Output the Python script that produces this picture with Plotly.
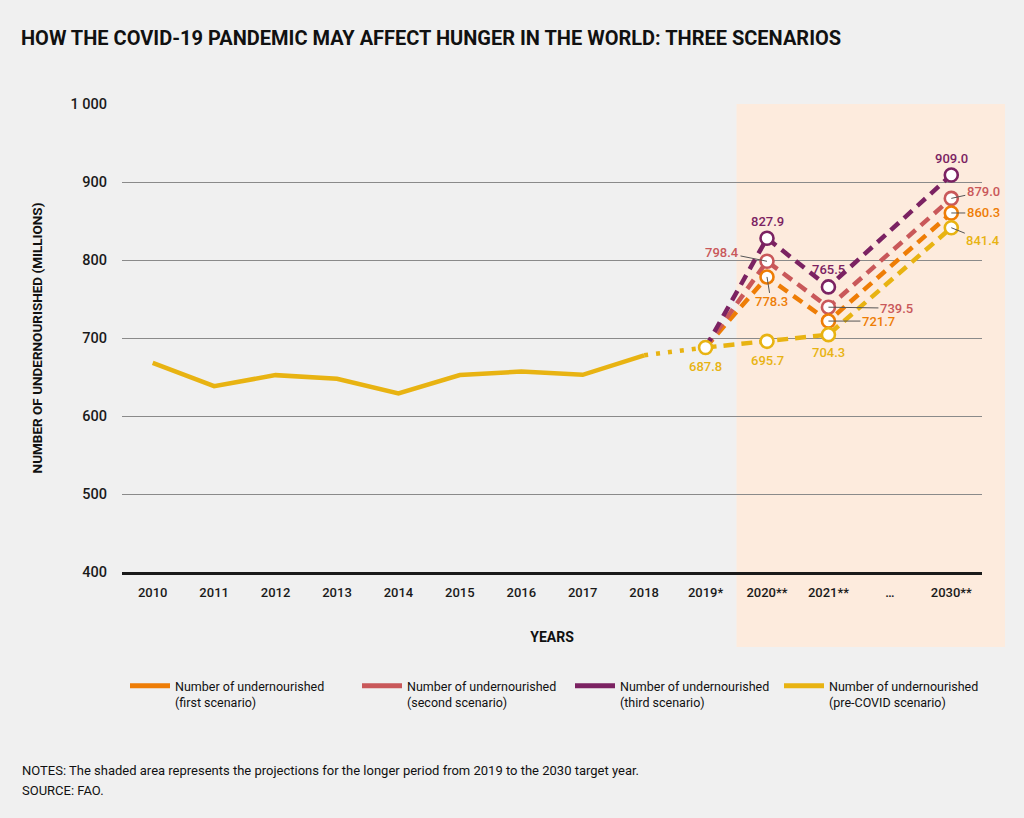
import plotly.graph_objects as go

# ---------------- data ----------------
categories = ["2010", "2011", "2012", "2013", "2014", "2015", "2016", "2017",
              "2018", "2019*", "2020**", "2021**", "…", "2030**"]
hist_years = ["2010", "2011", "2012", "2013", "2014", "2015", "2016", "2017", "2018"]
hist_values = [668.2, 638.3, 652.4, 647.8, 629.0, 652.6, 657.0, 652.8, 677.8]
base_year = "2019*"
base_value = 687.8
proj_years = ["2020**", "2021**", "2030**"]
first_scenario = [778.3, 721.7, 860.3]
second_scenario = [798.4, 739.5, 879.0]
third_scenario = [827.9, 765.5, 909.0]
precovid_scenario = [695.7, 704.3, 841.4]
y_tickvals = [400, 500, 600, 700, 800, 900, 1000]
y_ticktext = ["400", "500", "600", "700", "800", "900", "1 000"]

legend_names = {
    "first": "Number of undernourished<br>(first scenario)",
    "second": "Number of undernourished<br>(second scenario)",
    "third": "Number of undernourished<br>(third scenario)",
    "pre": "Number of undernourished<br>(pre-COVID scenario)",
}

# ---------------- style ----------------
FONT = "Roboto, Liberation Sans, sans-serif"
C_FIRST = "#EE7D06"
C_SECOND = "#C9585A"
C_THIRD = "#7B2262"
C_PRE = "#E8B312"
BG = "#F0F0F0"
SHADE = "#FDEBDD"
DASH = "11px,7px"

fig = go.Figure()

# historical line
fig.add_trace(go.Scatter(x=hist_years, y=hist_values, mode="lines",
                         line=dict(color=C_PRE, width=4.5), showlegend=False,
                         hoverinfo="skip"))
# dotted link 2018 -> 2019
fig.add_trace(go.Scatter(x=[hist_years[-1], base_year], y=[hist_values[-1], base_value],
                         mode="lines", line=dict(color=C_PRE, width=4.5, dash="4px,8px"),
                         showlegend=False, hoverinfo="skip"))

series = [
    ("pre", precovid_scenario, C_PRE),
    ("first", first_scenario, C_FIRST),
    ("second", second_scenario, C_SECOND),
    ("third", third_scenario, C_THIRD),
]
for key, vals, col in series:
    fig.add_trace(go.Scatter(x=[base_year] + proj_years, y=[base_value] + vals,
                             mode="lines", line=dict(color=col, width=4.5, dash=DASH),
                             showlegend=False))

# markers (drawn on top of lines)
for key, vals, col in [series[3], series[2], series[1], series[0]]:
    fig.add_trace(go.Scatter(x=proj_years, y=vals, mode="markers",
                             marker=dict(size=13, color="white", line=dict(color=col, width=2.6)),
                             showlegend=False))
fig.add_trace(go.Scatter(x=[base_year], y=[base_value], mode="markers",
                         marker=dict(size=13, color="white", line=dict(color=C_PRE, width=2.6)),
                         showlegend=False))

# legend entries
legend_ids = ["legend", "legend2", "legend3", "legend4"]
for (key, col), lid in zip([("first", C_FIRST), ("second", C_SECOND),
                            ("third", C_THIRD), ("pre", C_PRE)], legend_ids):
    fig.add_trace(go.Scatter(x=[None], y=[None], mode="lines", name=legend_names[key],
                             line=dict(color=col, width=5), legend=lid))

# ---------------- value labels ----------------
annotations = []
LBL = 13

def label(x, y, col, dx=0, dy=0, arrow=False):
    txt = f"{y:.1f}"
    if arrow:
        annotations.append(dict(x=x, y=y, xref="x", yref="y", text=txt, showarrow=True,
                                arrowhead=0, arrowwidth=1, arrowcolor="#555555",
                                ax=dx, ay=dy, standoff=0,
                                font=dict(family=FONT, size=LBL, color=col, weight=500)))
    else:
        annotations.append(dict(x=x, y=y, xref="x", yref="y", text=txt, showarrow=False,
                                xshift=dx, yshift=-dy,
                                font=dict(family=FONT, size=LBL, color=col, weight=500)))

label(base_year, base_value, C_PRE, 0, 19)
label(proj_years[0], precovid_scenario[0], C_PRE, 0, 19)
label(proj_years[1], precovid_scenario[1], C_PRE, 0, 18)
label(proj_years[2], precovid_scenario[2], C_PRE, 32, 13, True)
label(proj_years[0], first_scenario[0], C_FIRST, 4, 25, True)
label(proj_years[1], first_scenario[1], C_FIRST, 50, 0, True)
label(proj_years[2], first_scenario[2], C_FIRST, 32, 0, True)
label(proj_years[0], second_scenario[0], C_SECOND, -45, -9, True)
label(proj_years[1], second_scenario[1], C_SECOND, 68, 1, True)
label(proj_years[2], second_scenario[2], C_SECOND, 32, -7, True)
label(proj_years[0], third_scenario[0], C_THIRD, 0, -17)
label(proj_years[1], third_scenario[1], C_THIRD, 0, -17)
label(proj_years[2], third_scenario[2], C_THIRD, 0, -16)

# notes
NOTE_X = (20 - 122) / 860
annotations.append(dict(xref="paper", yref="paper", x=NOTE_X, y=-0.425, xanchor="left",
                        yanchor="middle", showarrow=False, align="left",
                        text="NOTES: The shaded area represents the projections for the longer period from 2019 to the 2030 target year.",
                        font=dict(family=FONT, size=13, color="#111111")))
annotations.append(dict(xref="paper", yref="paper", x=NOTE_X, y=-0.466, xanchor="left",
                        yanchor="middle", showarrow=False, align="left",
                        text="SOURCE: FAO.",
                        font=dict(family=FONT, size=13, color="#111111")))

# ---------------- layout ----------------
L, R, T, B = 122, 42, 104, 246
W, H = 1024, 818
plot_w = W - L - R
plot_h = H - T - B

def px_x(p):
    return (p - L) / plot_w

def px_y(p):
    return (H - B - p) / plot_h

fig.add_shape(type="rect", xref="paper", yref="paper",
              x0=px_x(736.5), x1=px_x(1005), y0=px_y(647), y1=1.0,
              fillcolor=SHADE, line_width=0, layer="below")

legend_common = dict(orientation="v", yanchor="top", xanchor="left", valign="top",
                     bgcolor="rgba(0,0,0,0)", borderwidth=0, itemwidth=40,
                     font=dict(family=FONT, size=12.5, color="#111111"),
                     itemclick=False, itemdoubleclick=False)
legend_swatch_x = [125, 357, 570, 779]
layout_legends = {}
for lid, sx in zip(legend_ids, legend_swatch_x):
    layout_legends[lid] = dict(x=px_x(sx), y=px_y(671), **legend_common)

fig.update_layout(
    width=W, height=H,
    margin=dict(l=L, r=R, t=T, b=B),
    paper_bgcolor=BG, plot_bgcolor="rgba(0,0,0,0)",
    font=dict(family=FONT, color="#111111"),
    title=dict(text="<b>HOW THE COVID-19 PANDEMIC MAY AFFECT HUNGER IN THE WORLD: THREE SCENARIOS</b>",
               x=21 / W, xref="container", xanchor="left",
               y=1 - 38 / H, yref="container", yanchor="middle",
               font=dict(family=FONT, size=20, color="#111111")),
    xaxis=dict(type="category", categoryorder="array", categoryarray=categories,
               tickvals=categories, ticktext=categories,
               range=[-0.5, len(categories) - 0.5],
               showgrid=False, zeroline=False,
               showline=True, linecolor="#1a1a1a", linewidth=2.5,
               ticks="outside", ticklen=7, tickcolor="rgba(0,0,0,0)",
               tickfont=dict(family=FONT, size=13, color="#1a1a1a", weight=500),
               title=dict(text="<b>YEARS</b>", standoff=33,
                          font=dict(family=FONT, size=14, color="#111111"))),
    yaxis=dict(range=[400, 1000], tickvals=y_tickvals, ticktext=y_ticktext,
               showgrid=True, gridcolor="#8a8a8a", gridwidth=1.2,
               zeroline=False, showline=False,
               ticks="outside", ticklen=11, tickcolor="rgba(0,0,0,0)",
               tickfont=dict(family=FONT, size=14.5, color="#1a1a1a", weight=500),
               title=dict(text="<b>NUMBER OF UNDERNOURISHED (MILLIONS)</b>", standoff=24,
                          font=dict(family=FONT, size=13.5, color="#111111"))),
    annotations=annotations,
    **layout_legends,
)

fig.write_html("out.html", config={"displayModeBar": False},
               post_script="document.body.style.margin='0';")
